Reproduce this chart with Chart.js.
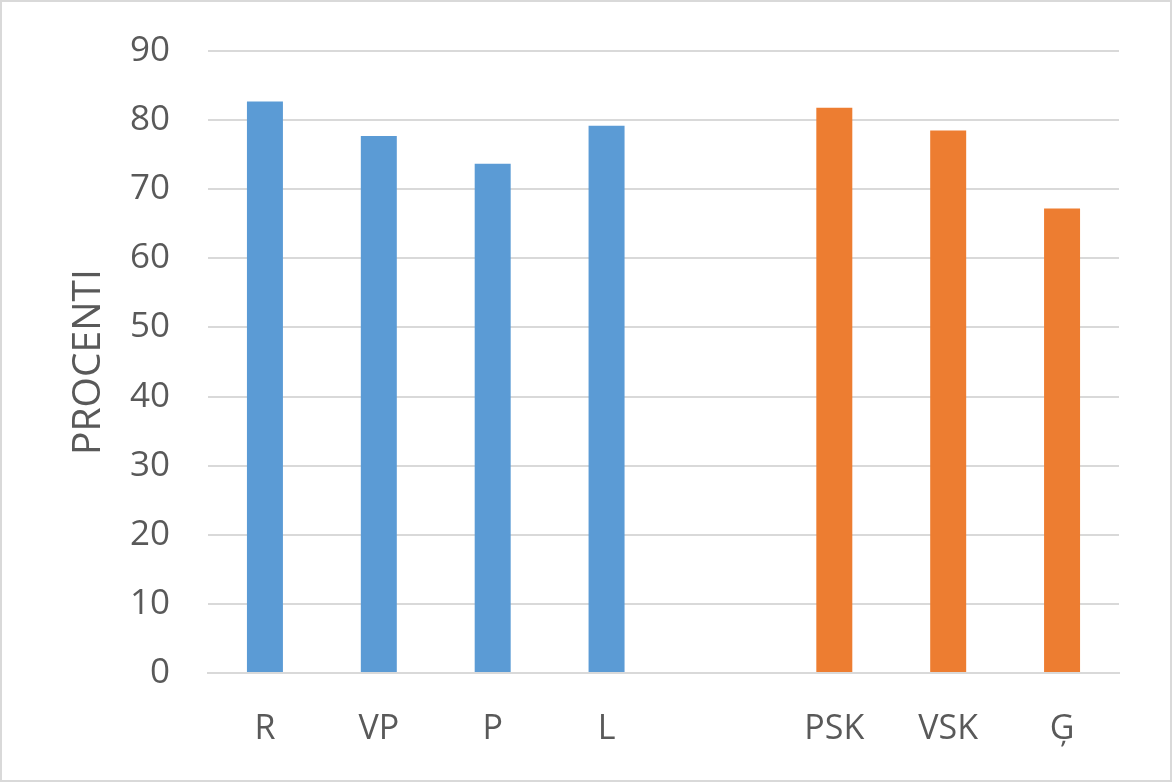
<!DOCTYPE html>
<html>
<head>
<meta charset="utf-8">
<script src="https://cdn.jsdelivr.net/npm/chart.js@4.4.0/dist/chart.umd.min.js"></script>
<style>
    html, body { margin: 0; padding: 0; background: #fff; }
    .chart-wrap {
        width: 1172px;
        height: 782px;
        box-sizing: border-box;
        border: 2px solid #d9d9d9;
        background: #fff;
    }
    canvas { display: block; }
</style>
</head>
<body>
<div class="chart-wrap"><canvas id="chart" width="1168" height="778"></canvas></div>
<script>
// Categories (empty slot separates the two groups)
const categories = ['R', 'VP', 'P', 'L', '', 'PSK', 'VSK', 'Ģ'];

// Series values, in percent
const groupOne = [82.7, 77.7, 73.7, 79.2, null, null, null, null];
const groupTwo = [null, null, null, null, null, 81.8, 78.5, 67.2];

// Axis
const yTitle = 'PROCENTI';
const yMin = 0;
const yMax = 90;
const yStep = 10;

const textColor = '#595959';
const gridColor = '#d9d9d9';
const fontFamily = '"Open Sans", "Segoe UI", sans-serif';

Chart.defaults.font.family = fontFamily;
Chart.defaults.color = textColor;

const ctx = document.getElementById('chart').getContext('2d');

new Chart(ctx, {
    type: 'bar',
    data: {
        labels: categories,
        datasets: [
            {
                data: groupOne,
                backgroundColor: '#5b9bd5',
                borderWidth: 0
            },
            {
                data: groupTwo,
                backgroundColor: '#ed7d31',
                borderWidth: 0
            }
        ]
    },
    options: {
        responsive: false,
        animation: false,
        skipNull: true,
        categoryPercentage: 1,
        barPercentage: 0.316,
        layout: {
            padding: { left: 0, right: 51, top: 49, bottom: 0 }
        },
        plugins: {
            legend: { display: false },
            tooltip: { enabled: false }
        },
        scales: {
            x: {
                grid: { display: false, drawTicks: false },
                border: { display: true, color: gridColor, width: 2 },
                ticks: {
                    padding: 36,
                    color: textColor,
                    font: { size: 34 }
                },
                afterFit: (scale) => {
                    scale.height = 107;
                    scale.paddingLeft = 0;
                    scale.paddingRight = 0;
                }
            },
            y: {
                min: yMin,
                max: yMax,
                grid: { color: gridColor, lineWidth: 2, drawTicks: false },
                border: { display: false },
                ticks: {
                    stepSize: yStep,
                    padding: 38,
                    color: textColor,
                    font: { size: 35 }
                },
                title: {
                    display: true,
                    text: yTitle,
                    color: textColor,
                    font: { size: 39 },
                    padding: { top: 63, bottom: 0 }
                },
                afterFit: (scale) => {
                    scale.width = 206;
                    scale.paddingTop = 0;
                    scale.paddingBottom = 0;
                }
            }
        }
    }
});
</script>
</body>
</html>
